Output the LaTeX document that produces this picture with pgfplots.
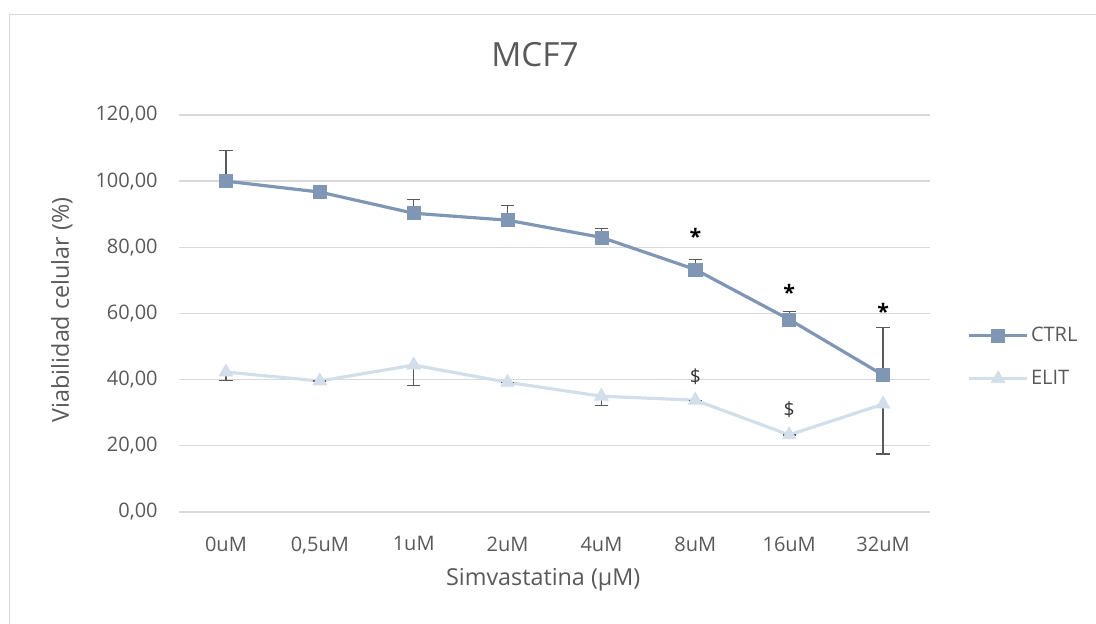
\documentclass[border=0pt]{standalone}
\usepackage{pgfplots}
\pgfplotsset{compat=1.18}
\usepackage{fontspec}
\setmainfont{Open Sans}
\definecolor{ctrlc}{HTML}{7F96B4}
\definecolor{elitc}{HTML}{D2DFEB}
\definecolor{txt}{HTML}{595959}
\definecolor{gridc}{HTML}{D9D9D9}
\definecolor{errc}{HTML}{595959}
\begin{document}
\begin{tikzpicture}
\useasboundingbox (0,0) rectangle (822pt,468pt);
\draw[gridc, line width=1pt] (7pt,-5pt) -- (7pt,457pt) -- (830pt,457pt);
\begin{axis}[
  at={(134.25pt,84pt)}, anchor=south west,
  scale only axis, width=563.25pt, height=297.75pt,
  xmin=-0.5, xmax=7.5, ymin=0, ymax=120,
  xtick={0,...,7},
  xticklabels={0uM,{0,5uM},1uM,2uM,4uM,8uM,16uM,32uM},
  ytick={0,20,...,120},
  /pgf/number format/fixed,
  /pgf/number format/fixed zerofill,
  /pgf/number format/precision=2,
  /pgf/number format/use comma,
  /pgf/number format/1000 sep={},
  /pgf/number format/assume math mode=true,
  ticklabel style={font=\fontsize{15}{16}\selectfont, text=txt},
  xticklabel style={yshift=-15pt},
  yticklabel style={xshift=-12.5pt},
  axis line style={draw=none},
  major tick style={draw=none},
  ymajorgrids, grid style={gridc, line width=1pt},
  title={MCF7},
  title style={at={(rel axis cs:0.474,1.133)}, anchor=center, font=\fontsize{25}{28}\selectfont, text=txt},
  xlabel={Simvastatina (µM)},
  xlabel style={at={(rel axis cs:0.485,-0.171)}, anchor=center, font=\fontsize{17.5}{19}\selectfont, text=txt},
  ylabel={Viabilidad celular (\%)},
  ylabel style={at={(rel axis cs:-0.156,0.509)}, anchor=center, rotate=0, font=\fontsize{17.5}{19}\selectfont, text=txt},
  legend style={at={(rel axis cs:1.05,0.39)}, anchor=west, draw=none, fill=none,
    font=\fontsize{15}{16}\selectfont, text=txt, row sep=16pt, inner sep=0pt},
  legend cell align=left,
  legend image code/.code={
    \draw[#1, mark=none] (0pt,0pt) -- (43pt,0pt);
    \draw[#1, only marks] plot coordinates {(21.5pt,0pt)};
  },
  clip=false,
]
\addplot[color=ctrlc, line width=2.4pt, mark=square*, mark size=4.9pt,
  mark options={fill=ctrlc, draw=ctrlc, line width=0.5pt},
  error bars/.cd, y dir=plus, y explicit,
  error bar style={errc, line width=0.9pt},
  error mark options={rotate=90, mark size=5pt, errc, line width=0.9pt}]
coordinates {
  (0,100.0) +- (0,9.3)
  (1,96.7) +- (0,0)
  (2,90.3) +- (0,4.2)
  (3,88.2) +- (0,4.5)
  (4,83.0) +- (0,2.6)
  (5,73.3) +- (0,3.0)
  (6,58.2) +- (0,2.5)
  (7,41.4) +- (0,14.4)
};
\addlegendentry{CTRL}
\addplot[color=elitc, line width=2.4pt, mark=triangle*, mark size=6pt,
  mark options={fill=elitc, draw=elitc, line width=0.5pt},
  error bars/.cd, y dir=minus, y explicit,
  error bar style={errc, line width=0.9pt},
  error mark options={rotate=90, mark size=5pt, errc, line width=0.9pt}]
coordinates {
  (0,42.3) +- (0,2.6)
  (1,39.6) +- (0,0)
  (2,44.4) +- (0,6.2)
  (3,39.2) +- (0,0)
  (4,35.0) +- (0,2.8)
  (5,33.8) +- (0,0)
  (6,23.3) +- (0,0)
  (7,32.6) +- (0,15.1)
};
\addlegendentry{ELIT}
\node[font=\fontsize{16}{16}\selectfont\bfseries] at (axis cs:5,83.2) {*};
\node[font=\fontsize{16}{16}\selectfont\bfseries] at (axis cs:6,66.5) {*};
\node[font=\fontsize{16}{16}\selectfont\bfseries] at (axis cs:7,60.5) {*};
\node[font=\fontsize{14.5}{15}\selectfont, text=black!80] at (axis cs:5,40.8) {\$};
\node[font=\fontsize{14.5}{15}\selectfont, text=black!80] at (axis cs:6,30.8) {\$};
\end{axis}
\end{tikzpicture}
\end{document}
